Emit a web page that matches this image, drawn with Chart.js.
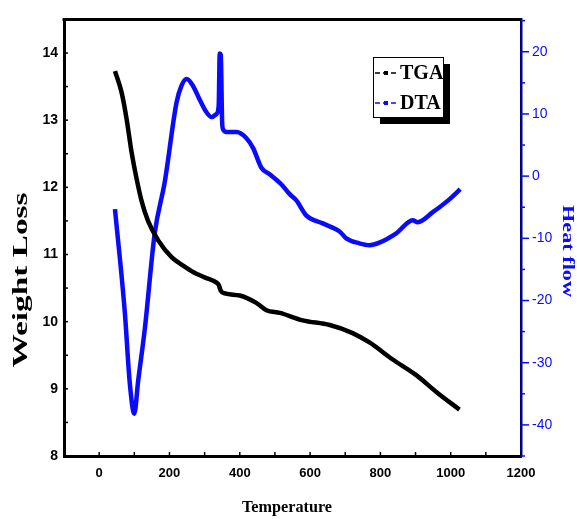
<!DOCTYPE html>
<html>
<head>
<meta charset="utf-8">
<script src="https://cdn.jsdelivr.net/npm/chart.js@4"></script>
<style>
  body { margin: 0; background: #fff; }
</style>
</head>
<body>
<canvas id="myChart" width="577" height="519"></canvas>
<script>
// TGA curve (left axis)
const tgaTemp = [45, 64, 78, 92, 106, 121, 139, 168, 206, 240, 267, 300, 334, 340, 346, 352, 400, 447, 476, 514, 579, 656, 721, 769, 834, 903, 960, 1025];
const tgaWeight = [13.73, 13.41, 13.02, 12.53, 12.14, 11.79, 11.50, 11.21, 10.96, 10.83, 10.74, 10.66, 10.58, 10.55, 10.46, 10.43, 10.39, 10.28, 10.17, 10.13, 10.02, 9.95, 9.83, 9.69, 9.44, 9.20, 8.95, 8.69];

// DTA curve (right axis)
const dtaTemp = [45, 73, 87, 100, 111, 130, 158, 187, 220, 234, 249, 267, 286, 305, 320, 334, 340, 343, 346, 350, 353, 362, 391, 419, 438, 462, 485, 518, 542, 561, 589, 636, 684, 703, 740, 769, 797, 845, 892, 906, 949, 997, 1027];
const dtaHeat = [-5.3, -21.9, -33.2, -38.2, -32.9, -24.5, -9.2, -0.8, 11.8, 14.5, 15.6, 14.5, 12.3, 10.3, 9.5, 10.0, 11.3, 19.7, 19.5, 8.5, 7.5, 7.1, 7.1, 6.1, 4.5, 1.3, 0.3, -1.3, -2.9, -3.9, -6.3, -7.6, -8.9, -10.0, -10.8, -11.1, -10.7, -9.2, -7.1, -7.4, -5.8, -3.7, -2.1];

// tick labels
const xTicks = [0, 200, 400, 600, 800, 1000, 1200];
const leftTicks = [8, 9, 10, 11, 12, 13, 14];
const rightTicks = [-40, -30, -20, -10, 0, 10, 20];

const BLUE = "#0a0aff";
const NAVY = "#00008b";

const toPoints = (xs, ys) => xs.map((x, i) => ({ x: x, y: ys[i] }));

// frame, tick marks, axis titles and legend
const decorations = {
  id: "decorations",
  afterDraw(chart) {
    const ctx = chart.ctx;
    const a = chart.chartArea;
    const sx = chart.scales.x;
    const sl = chart.scales.y;
    const sr = chart.scales.y1;
    ctx.save();

    // top border
    ctx.strokeStyle = "#000";
    ctx.lineWidth = 3;
    ctx.beginPath();
    ctx.moveTo(a.left - 1.5, a.top);
    ctx.lineTo(a.right, a.top);
    ctx.stroke();

    // tick marks
    ctx.lineWidth = 1.5;
    ctx.strokeStyle = "#000";
    for (let v = 0; v <= 1200; v += 100) {
      const px = sx.getPixelForValue(v);
      ctx.beginPath();
      ctx.moveTo(px, a.bottom);
      ctx.lineTo(px, a.bottom - 4);
      ctx.stroke();
    }
    for (let v = 8.5; v <= 14.5; v += 0.5) {
      const py = sl.getPixelForValue(v);
      ctx.beginPath();
      ctx.moveTo(a.left, py);
      ctx.lineTo(a.left + 4, py);
      ctx.stroke();
    }
    ctx.strokeStyle = BLUE;
    for (let v = -45; v <= 25; v += 5) {
      const py = sr.getPixelForValue(v);
      const len = v % 10 === 0 ? 8 : 4;
      ctx.beginPath();
      ctx.moveTo(a.right, py);
      ctx.lineTo(a.right + len, py);
      ctx.stroke();
    }

    // axis titles (stretched like the source picture)
    const title = (text, cx, cy, rot, font, color, length) => {
      ctx.save();
      ctx.font = font;
      ctx.fillStyle = color;
      ctx.textAlign = "center";
      ctx.textBaseline = "middle";
      ctx.translate(cx, cy);
      ctx.rotate(rot);
      const w = ctx.measureText(text).width;
      ctx.scale(length / w, 1);
      ctx.fillText(text, 0, 0);
      ctx.restore();
    };
    title("Weight Loss", 22, 280, -Math.PI / 2, "bold 20px 'Liberation Serif'", "#000", 175);
    title("Heat flow", 567, 251, Math.PI / 2, "bold 16px 'Liberation Serif'", BLUE, 92);
    title("Temperature", 287, 508, 0, "bold 16px 'Liberation Serif'", "#000", 90);

    // legend box with shadow
    const bx = 373, by = 57, bw = 70, bh = 60;
    ctx.fillStyle = "#000";
    ctx.fillRect(bx + 7, by + 7, bw, bh);
    ctx.fillStyle = "#fff";
    ctx.fillRect(bx, by, bw, bh);
    ctx.strokeStyle = "#000";
    ctx.lineWidth = 1;
    ctx.strokeRect(bx + 0.5, by + 0.5, bw, bh);

    const items = [["TGA", "#000", 73], ["DTA", BLUE, 103]];
    items.forEach(([label, color, y]) => {
      ctx.strokeStyle = color;
      ctx.lineWidth = 1.5;
      ctx.setLineDash([5, 3]);
      ctx.beginPath();
      ctx.moveTo(bx + 2, y);
      ctx.lineTo(bx + 24, y);
      ctx.stroke();
      ctx.setLineDash([]);
      ctx.fillStyle = color;
      ctx.fillRect(bx + 11, y - 2, 4, 4);
      ctx.fillStyle = "#000";
      ctx.font = "bold 20px 'Liberation Serif'";
      ctx.textAlign = "left";
      ctx.textBaseline = "middle";
      ctx.fillText(label, bx + 27, y + 1);
    });

    ctx.restore();
  },
};

new Chart(document.getElementById("myChart"), {
  type: "line",
  data: {
    datasets: [
      {
        label: "TGA",
        data: toPoints(tgaTemp, tgaWeight),
        borderColor: "#000",
        borderWidth: 4.5,
        pointRadius: 0,
        cubicInterpolationMode: "monotone",
        yAxisID: "y",
      },
      {
        label: "DTA",
        data: toPoints(dtaTemp, dtaHeat),
        borderColor: BLUE,
        borderWidth: 4.5,
        pointRadius: 0,
        cubicInterpolationMode: "monotone",
        yAxisID: "y1",
      },
    ],
  },
  options: {
    responsive: false,
    animation: false,
    devicePixelRatio: 1,
    layout: { padding: { top: 12, left: 0, right: 0, bottom: 0 } },
    plugins: {
      legend: { display: false },
      tooltip: { enabled: false },
    },
    scales: {
      x: {
        type: "linear",
        min: -100,
        max: 1200,
        afterBuildTicks: (s) => { s.ticks = xTicks.map((v) => ({ value: v })); },
        afterFit: (s) => { s.height = 63; },
        grid: { display: false, drawTicks: false },
        border: { display: true, color: "#000", width: 3 },
        ticks: {
          color: "#000",
          padding: 10,
          maxRotation: 0,
          callback: (v) => String(v),
          font: { family: "Liberation Sans", size: 13, weight: "bold" },
        },
      },
      y: {
        position: "left",
        min: 8,
        max: 14.5,
        afterBuildTicks: (s) => { s.ticks = leftTicks.map((v) => ({ value: v })); },
        afterFit: (s) => { s.width = 64; },
        grid: { display: false, drawTicks: false },
        border: { display: true, color: "#000", width: 3 },
        ticks: {
          color: "#000",
          padding: 6,
          font: { family: "Liberation Sans", size: 14, weight: "bold" },
        },
      },
      y1: {
        position: "right",
        min: -45,
        max: 25.2,
        afterBuildTicks: (s) => { s.ticks = rightTicks.map((v) => ({ value: v })); },
        afterFit: (s) => { s.width = 56; },
        grid: { display: false, drawTicks: false },
        border: { display: true, color: NAVY, width: 2.5 },
        ticks: {
          color: BLUE,
          padding: 11,
          font: { family: "Liberation Sans", size: 14 },
        },
      },
    },
  },
  plugins: [decorations],
});
</script>
</body>
</html>
